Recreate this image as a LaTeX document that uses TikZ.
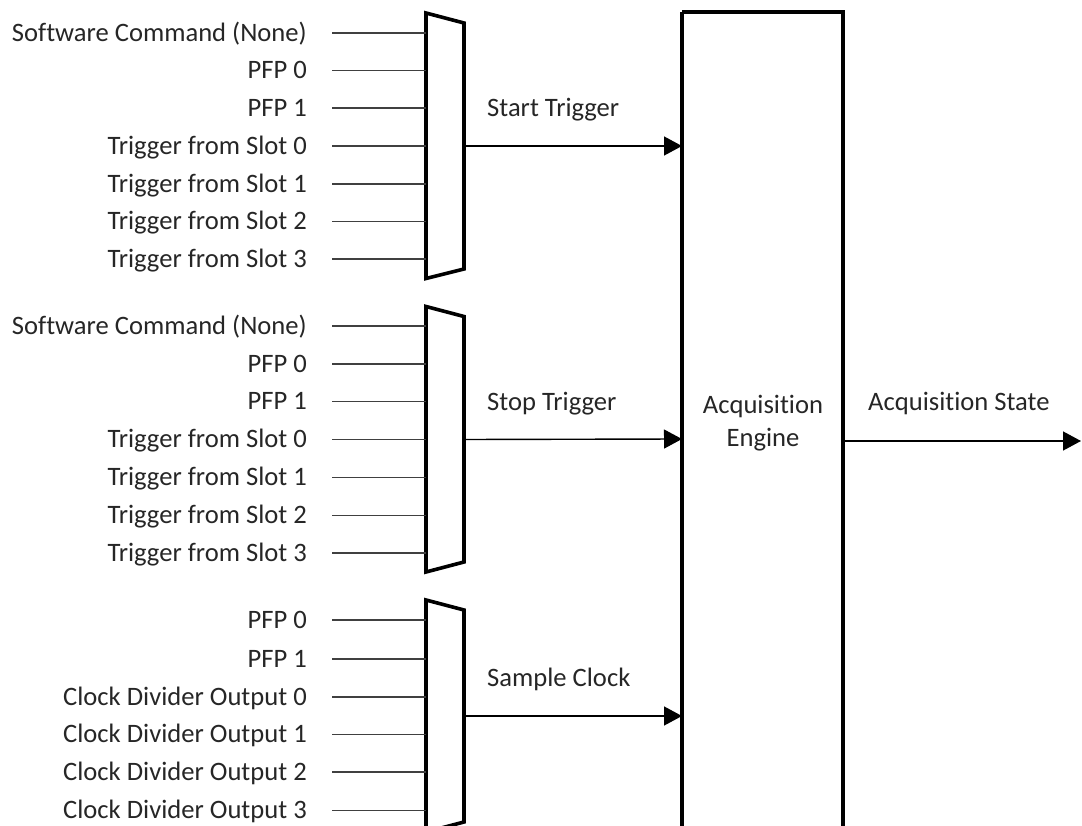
\documentclass[tikz,border=0pt]{standalone}
\usepackage{fontspec}
\setmainfont[Ligatures={NoCommon}]{Carlito}
\usetikzlibrary{arrows.meta}
\definecolor{txt}{HTML}{262626}
\definecolor{wire}{HTML}{404040}
\tikzset{
  lbl/.style={anchor=base east, inner sep=0pt, text=txt, font=\fontsize{26.6pt}{33pt}\selectfont},
  sig/.style={anchor=base west, inner sep=0pt, text=txt, font=\fontsize{26.6pt}{33pt}\selectfont},
  wireline/.style={draw=wire, line width=1.2pt},
  muxshape/.style={draw=black, line width=3.6pt, line join=miter, fill=white},
  arr/.style={draw=black, line width=1.4pt, -{Triangle[length=18pt,width=19pt]}},
  enginebox/.style={draw=black, line width=3.6pt}
}
\begin{document}
\begin{tikzpicture}[x=1pt,y=-1pt]
\useasboundingbox (0,0) rectangle (1082,826);
\begin{scope}
\clip (0,0) rectangle (1082,826);
% engine box
\draw[enginebox] (682,12) -- (682,840) (682,12) -- (843,12) -- (843,840);
\node[anchor=center, inner sep=0pt, text=txt, align=center, font=\fontsize{26.6pt}{33pt}\selectfont] (engtxt) at (763,423) {Acquisition\\Engine};
\coordinate (engL1) at (682,146);
\coordinate (engL2) at (682,439);
\coordinate (engL3) at (682,716);
\coordinate (engR) at (843,441);
\coordinate (outEnd) at (1081,441);

% mux 1
\draw[muxshape] (426,13) -- (464,23) -- (464,269) -- (426,278.5) -- cycle;
\coordinate (m1out) at (464,146);
% mux 2
\draw[muxshape] (426,306.5) -- (464,316.5) -- (464,562) -- (426,572) -- cycle;
\coordinate (m2out) at (464,439.5);
% mux 3
\draw[muxshape] (426,600) -- (464,610) -- (464,822) -- (426,832) -- cycle;
\coordinate (m3out) at (464,716);

% inputs mux 1
\foreach \y/\t [count=\i] in {33/Software Command (None),70.5/PFP 0,108/PFP 1,146/Trigger from Slot 0,184/Trigger from Slot 1,221.5/Trigger from Slot 2,259/Trigger from Slot 3}{
  \node[lbl] (a\i) at (307,\y+8.4) {\t};
  \coordinate (a\i s) at (332,\y);
  \coordinate (a\i e) at (426,\y);
  \draw[wireline] (a\i s) -- (a\i e);
}
% inputs mux 2
\foreach \y/\t [count=\i] in {326/Software Command (None),364/PFP 0,401.5/PFP 1,439.5/Trigger from Slot 0,477.5/Trigger from Slot 1,515.5/Trigger from Slot 2,553/Trigger from Slot 3}{
  \node[lbl] (b\i) at (307,\y+8.4) {\t};
  \coordinate (b\i s) at (332,\y);
  \coordinate (b\i e) at (426,\y);
  \draw[wireline] (b\i s) -- (b\i e);
}
% inputs mux 3
\foreach \y/\t [count=\i] in {620/PFP 0,659/PFP 1,697/Clock Divider Output 0,734.5/Clock Divider Output 1,772/Clock Divider Output 2,810.5/Clock Divider Output 3}{
  \node[lbl] (c\i) at (307,\y+8.4) {\t};
  \coordinate (c\i s) at (332,\y);
  \coordinate (c\i e) at (426,\y);
  \draw[wireline] (c\i s) -- (c\i e);
}

% outputs
\draw[arr] (m1out) -- (engL1);
\draw[arr] (m2out) -- (engL2);
\draw[arr] (m3out) -- (engL3);
\draw[arr] (engR) -- (outEnd);

\node[sig] (st) at (487,116.5) {Start Trigger};
\node[sig] (sp) at (487,410.5) {Stop Trigger};
\node[sig] (sc) at (487,686.5) {Sample Clock};
\node[sig] (as) at (868,410.5) {Acquisition State};
\end{scope}
\end{tikzpicture}
\end{document}
